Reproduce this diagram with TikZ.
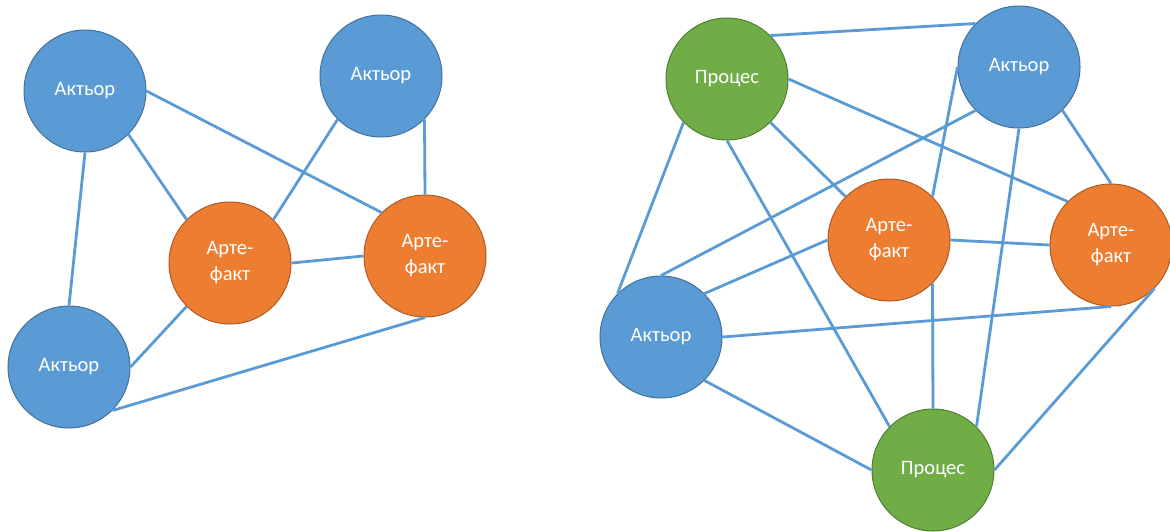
\documentclass[tikz,border=0pt]{standalone}
\usepackage{fontspec}
\setmainfont{Carlito}
\usepackage{tikz}
\usepackage{xcolor}
\definecolor{actblue}{HTML}{5B9BD5}
\definecolor{actedge}{HTML}{41719C}
\definecolor{artorange}{HTML}{ED7D31}
\definecolor{artedge}{HTML}{AE5A21}
\definecolor{procgreen}{HTML}{70AD47}
\definecolor{procedge}{HTML}{507E32}

\begin{document}
\begin{tikzpicture}[x=1pt, y=-1pt]
                        % a = actor, f = artefact, p = process (pixel coordinates)
                        \tikzset{actor/.style={circle, fill=actblue, draw=actedge},
                                 artefact/.style={circle, fill=artorange, draw=artedge},
                                 process/.style={circle, fill=procgreen, draw=procedge}}
                        \tikzstyle{every node}=[minimum size=122pt, inner sep=0pt, line width=1pt,
                                text=white, align=center, font=\fontsize{20.5}{26}\selectfont]
                        \tikzstyle{every edge}=[actblue, line width=2.8pt, draw]
                        \useasboundingbox (0,0) rectangle (1170,531);

                        % left graph
                        \node[actor] (A1) at (85, 91) {Актьор};
                        \node[actor] (A2) at (381, 76) {Актьор};
                        \node[actor] (A3) at (69, 367) {Актьор};
                        \node[artefact] (F1) at (230, 263) {Арте-\\факт};
                        \node[artefact] (F2) at (425, 256) {Арте-\\факт};

                        \draw (A1.south) edge (A3.north);
                        \draw (A1.south east) edge (F1.north west);
                        \draw (A1.east) edge (F2.north west);
                        \draw (A2.south west) edge (F1.north east);
                        \draw (A2.south east) edge (F2.north);
                        \draw (F1.east) edge (F2.west);
                        \draw (A3.east) edge (F1.south west);
                        \draw (A3.south east) edge (F2.south);

                        % right graph
                        \node[process] (P1) at (727, 79) {Процес};
                        \node[actor] (A4) at (1019, 67) {Актьор};
                        \node[artefact] (F3) at (889, 240) {Арте-\\факт};
                        \node[artefact] (F4) at (1111, 245) {Арте-\\факт};
                        \node[actor] (A5) at (661, 337) {Актьор};
                        \node[process] (P2) at (933, 470) {Процес};

                        \draw (P1.north east) edge (A4.north west);
                        \draw (P1.east) edge (F4.north west);
                        \draw (P1.south east) edge (F3.north west);
                        \draw (P1.south west) edge (A5.north west);
                        \draw (P1.south) edge (P2.north west);
                        \draw (A4.south west) edge (A5.north);
                        \draw (A4.west) edge (F3.north east);
                        \draw (A4.south) edge (P2.north east);
                        \draw (A4.south east) edge (F4.north);
                        \draw (F3.east) edge (F4.west);
                        \draw (F3.west) edge (A5.north east);
                        \draw (F3.south east) edge (P2.north);
                        \draw (A5.east) edge (F4.south);
                        \draw (A5.south east) edge (P2.west);
                        \draw (F4.south east) edge (P2.east);

                \end{tikzpicture}
\end{document}
